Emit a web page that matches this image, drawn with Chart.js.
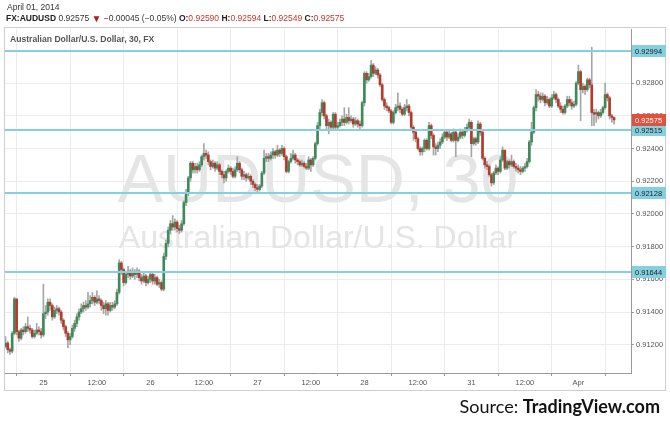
<!DOCTYPE html>
<html>
<head>
<meta charset="utf-8">
<script src="https://cdn.jsdelivr.net/npm/chart.js@4.4.0/dist/chart.umd.min.js"></script>
<style>
  html, body { margin: 0; padding: 0; background: #fff; }
  #wrap { width: 670px; height: 425px; }
</style>
</head>
<body>
<div id="wrap"><canvas id="audChart" width="670" height="425"></canvas></div>
<script>
// AUDUSD, 30 minute bars (24 Mar pm -> 1 Apr am)
const opens = [
  .9119,.9121,.9117,.9116,.9127,.9148,.9128,.9124,.9129,.9128,.9131,.9130,
  .9129,.9125,.9127,.9129,.9128,.9126,.9139,.9140,.9146,.9144,.9137,.9141,
  .9142,.9140,.9135,.9131,.9127,.9123,.9125,.9130,.9133,.9137,.9140,.9142,
  .9144,.9143,.9145,.9147,.9149,.9146,.9148,.9147,.9144,.9142,.9145,.9141,
  .9144,.9143,.9145,.9152,.9170,.9166,.9158,.9163,.9165,.9162,.9164,.9163,
  .9165,.9161,.9159,.9162,.9158,.9160,.9163,.9159,.9161,.9157,.9158,.9154,
  .9174,.9182,.9190,.9194,.9192,.9195,.9191,.9190,.9194,.9207,.9213,.9222,
  .9231,.9227,.9229,.9227,.9230,.9235,.9237,.9236,.9232,.9229,.9231,.9228,
  .9230,.9226,.9224,.9222,.9226,.9228,.9226,.9223,.9227,.9231,.9227,.9223,
  .9224,.9222,.9223,.9220,.9218,.9216,.9215,.9217,.9225,.9234,.9235,.9234,
  .9236,.9238,.9236,.9239,.9237,.9240,.9235,.9226,.9232,.9234,.9236,.9233,
  .9232,.9230,.9231,.9229,.9228,.9233,.9230,.9234,.9243,.9254,.9262,.9268,
  .9260,.9254,.9256,.9253,.9261,.9253,.9254,.9256,.9258,.9256,.9259,.9257,
  .9258,.9255,.9257,.9255,.9254,.9268,.9286,.9282,.9284,.9291,.9286,.9288,
  .9285,.9279,.9270,.9266,.9265,.9263,.9256,.9262,.9265,.9266,.9264,.9261,
  .9265,.9266,.9262,.9253,.9250,.9246,.9240,.9238,.9240,.9245,.9240,.9254,
  .9248,.9241,.9240,.9242,.9244,.9247,.9250,.9247,.9249,.9245,.9250,.9245,
  .9247,.9250,.9248,.9251,.9253,.9256,.9243,.9246,.9244,.9255,.9250,.9234,
  .9230,.9229,.9224,.9219,.9225,.9228,.9226,.9233,.9239,.9228,.9232,.9230,
  .9232,.9229,.9228,.9227,.9226,.9228,.9229,.9232,.9244,.9250,.9265,.9273,
  .9272,.9270,.9272,.9268,.9270,.9266,.9271,.9273,.9270,.9266,.9264,.9262,
  .9266,.9270,.9268,.9266,.9267,.9280,.9287,.9276,.9278,.9276,.9282,.9279,
  .9262,.9261,.9262,.9260,.9262,.9265,.9273,.9271,.9260,.9259
];
const highs = [
  .9125,.9122,.9118,.9128,.9149,.9148,.9129,.9130,.9131,.9133,.9137,.9132,
  .9130,.9129,.9133,.9131,.9130,.9157,.9144,.9148,.9148,.9145,.9143,.9144,
  .9143,.9141,.9136,.9132,.9128,.9127,.9132,.9135,.9139,.9142,.9145,.9146,
  .9147,.9152,.9150,.9152,.9150,.9153,.9150,.9148,.9146,.9147,.9146,.9146,
  .9146,.9147,.9154,.9172,.9171,.9167,.9165,.9168,.9166,.9167,.9166,.9167,
  .9166,.9163,.9164,.9163,.9162,.9165,.9164,.9163,.9162,.9160,.9159,.9176,
  .9184,.9192,.9196,.9199,.9197,.9196,.9193,.9196,.9208,.9215,.9223,.9232,
  .9232,.9231,.9231,.9232,.9236,.9243,.9239,.9238,.9233,.9233,.9232,.9232,
  .9231,.9227,.9226,.9227,.9230,.9229,.9228,.9229,.9235,.9232,.9228,.9226,
  .9225,.9225,.9224,.9221,.9219,.9218,.9218,.9226,.9239,.9237,.9237,.9238,
  .9240,.9239,.9242,.9240,.9242,.9241,.9236,.9233,.9237,.9239,.9237,.9234,
  .9233,.9233,.9232,.9231,.9235,.9234,.9235,.9244,.9256,.9264,.9270,.9269,
  .9261,.9258,.9257,.9262,.9262,.9256,.9258,.9260,.9265,.9261,.9265,.9260,
  .9259,.9259,.9258,.9257,.9269,.9287,.9287,.9286,.9294,.9292,.9290,.9289,
  .9286,.9280,.9271,.9268,.9266,.9264,.9263,.9267,.9274,.9268,.9265,.9267,
  .9270,.9267,.9263,.9254,.9251,.9247,.9241,.9241,.9246,.9246,.9256,.9255,
  .9249,.9243,.9244,.9246,.9249,.9251,.9251,.9251,.9250,.9252,.9251,.9249,
  .9252,.9251,.9253,.9255,.9258,.9257,.9247,.9247,.9257,.9256,.9251,.9235,
  .9232,.9230,.9225,.9226,.9230,.9229,.9235,.9241,.9239,.9233,.9233,.9236,
  .9233,.9231,.9230,.9229,.9229,.9231,.9234,.9245,.9256,.9266,.9276,.9275,
  .9274,.9274,.9273,.9272,.9271,.9273,.9275,.9274,.9271,.9268,.9266,.9267,
  .9272,.9272,.9270,.9269,.9281,.9291,.9288,.9280,.9279,.9283,.9283,.9302,
  .9264,.9264,.9263,.9264,.9266,.9280,.9274,.9272,.9261,.92594
];
const lows = [
  .9118,.9115,.9114,.9115,.9126,.9126,.9122,.9123,.9126,.9127,.9128,.9127,
  .9124,.9124,.9126,.9126,.9124,.9125,.9136,.9138,.9141,.9135,.9136,.9139,
  .9138,.9133,.9129,.9125,.9118,.9120,.9124,.9128,.9131,.9135,.9139,.9140,
  .9141,.9142,.9143,.9145,.9144,.9145,.9145,.9141,.9139,.9138,.9138,.9140,
  .9141,.9142,.9144,.9151,.9163,.9156,.9157,.9161,.9160,.9161,.9160,.9161,
  .9159,.9157,.9158,.9156,.9157,.9158,.9157,.9157,.9156,.9155,.9153,.9153,
  .9172,.9180,.9188,.9190,.9190,.9189,.9188,.9189,.9193,.9205,.9211,.9220,
  .9225,.9225,.9225,.9226,.9229,.9233,.9234,.9230,.9227,.9228,.9226,.9227,
  .9224,.9222,.9219,.9220,.9225,.9224,.9222,.9222,.9226,.9225,.9221,.9221,
  .9220,.9221,.9218,.9216,.9214,.9213,.9214,.9216,.9224,.9232,.9232,.9233,
  .9234,.9234,.9235,.9235,.9236,.9233,.9225,.9225,.9231,.9233,.9231,.9230,
  .9229,.9229,.9228,.9227,.9227,.9226,.9229,.9233,.9242,.9252,.9260,.9258,
  .9252,.9249,.9251,.9252,.9251,.9252,.9253,.9254,.9254,.9255,.9255,.9256,
  .9253,.9254,.9253,.9252,.9253,.9266,.9280,.9281,.9283,.9284,.9285,.9283,
  .9278,.9269,.9264,.9263,.9262,.9255,.9255,.9261,.9263,.9262,.9260,.9260,
  .9263,.9260,.9252,.9245,.9244,.9239,.9236,.9236,.9238,.9239,.9239,.9246,
  .9236,.9236,.9238,.9240,.9243,.9246,.9245,.9246,.9244,.9244,.9235,.9244,
  .9246,.9246,.9247,.9250,.9252,.9235,.9242,.9242,.9243,.9248,.9233,.9228,
  .9227,.9223,.9217,.9218,.9224,.9224,.9225,.9232,.9227,.9227,.9228,.9229,
  .9228,.9226,.9225,.9224,.9225,.9226,.9228,.9231,.9242,.9249,.9263,.9269,
  .9268,.9269,.9266,.9267,.9265,.9265,.9270,.9268,.9265,.9262,.9261,.9261,
  .9265,.9266,.9264,.9265,.9266,.9279,.9257,.9274,.9273,.9275,.9277,.9254,
  .9254,.9256,.9258,.9259,.9261,.9264,.9269,.9258,.9256,.92549
];
const closes = [
  .9121,.9117,.9116,.9127,.9148,.9128,.9124,.9129,.9128,.9131,.9130,.9129,
  .9125,.9127,.9129,.9128,.9126,.9139,.9140,.9146,.9144,.9137,.9141,.9142,
  .9140,.9135,.9131,.9127,.9123,.9125,.9130,.9133,.9137,.9140,.9142,.9144,
  .9143,.9145,.9147,.9149,.9146,.9148,.9147,.9144,.9142,.9145,.9141,.9144,
  .9143,.9145,.9152,.9170,.9166,.9158,.9163,.9165,.9162,.9164,.9163,.9165,
  .9161,.9159,.9162,.9158,.9160,.9163,.9159,.9161,.9157,.9158,.9154,.9174,
  .9182,.9190,.9194,.9192,.9195,.9191,.9190,.9194,.9207,.9213,.9222,.9231,
  .9227,.9229,.9227,.9230,.9235,.9237,.9236,.9232,.9229,.9231,.9228,.9230,
  .9226,.9224,.9222,.9226,.9228,.9226,.9223,.9227,.9231,.9227,.9223,.9224,
  .9222,.9223,.9220,.9218,.9216,.9215,.9217,.9225,.9234,.9235,.9234,.9236,
  .9238,.9236,.9239,.9237,.9240,.9235,.9226,.9232,.9234,.9236,.9233,.9232,
  .9230,.9231,.9229,.9228,.9233,.9230,.9234,.9243,.9254,.9262,.9268,.9260,
  .9254,.9256,.9253,.9261,.9253,.9254,.9256,.9258,.9256,.9259,.9257,.9258,
  .9255,.9257,.9255,.9254,.9268,.9286,.9282,.9284,.9291,.9286,.9288,.9285,
  .9279,.9270,.9266,.9265,.9263,.9256,.9262,.9265,.9266,.9264,.9261,.9265,
  .9266,.9262,.9253,.9250,.9246,.9240,.9238,.9240,.9245,.9240,.9254,.9248,
  .9241,.9240,.9242,.9244,.9247,.9250,.9247,.9249,.9245,.9250,.9245,.9247,
  .9250,.9248,.9251,.9253,.9256,.9243,.9246,.9244,.9255,.9250,.9234,.9230,
  .9229,.9224,.9219,.9225,.9228,.9226,.9233,.9239,.9228,.9232,.9230,.9232,
  .9229,.9228,.9227,.9226,.9228,.9229,.9232,.9244,.9250,.9265,.9273,.9272,
  .9270,.9272,.9268,.9270,.9266,.9271,.9273,.9270,.9266,.9264,.9262,.9266,
  .9270,.9268,.9266,.9267,.9280,.9287,.9276,.9278,.9276,.9282,.9279,.9262,
  .9261,.9262,.9260,.9262,.9265,.9273,.9271,.9260,.9259,.92575
];

// bar index of each time label on the bottom axis
const xTickIdx = [17, 41, 65, 89, 113, 137, 161, 185, 209, 233, 257];
const xTickLabels = ['25', '12:00', '26', '12:00', '27', '12:00', '28', '12:00', '31', '12:00', 'Apr'];
const yTicks = [0.912, 0.914, 0.916, 0.918, 0.920, 0.922, 0.924, 0.926, 0.928, 0.930];

// horizontal lines drawn on the chart + last price
const levels = [0.92994, 0.92515, 0.92128, 0.91644];
const lastPrice = 0.92575;

const upColor = '#3e8a5b';
const downColor = '#b63a2c';
const wickColor = '#a6a6a6';
const levelColor = '#84d0e0';

const wickData = highs.map((h, i) => ({ x: i, y: [lows[i], h] }));
const bodyData = opens.map((o, i) => ({ x: i, y: [o, closes[i]] }));

const labelFont = '7.5px "Liberation Sans", Arial, sans-serif';

const decor = {
    id: 'decor',
    beforeDraw(chart) {
        const c = chart.ctx;
        c.save();
        c.fillStyle = '#fff';
        c.fillRect(0, 0, chart.width, chart.height);
        c.strokeStyle = '#cfcfcf';
        c.lineWidth = 1;
        c.strokeRect(4.5, 27.5, 661, 363);

        // header
        c.textBaseline = 'middle';
        c.fillStyle = '#333';
        c.font = '8.5px "Liberation Sans", Arial, sans-serif';
        c.fillText('April 01, 2014', 7, 8);

        const parts = [
            ['FX:AUDUSD', true, '#222', 8.5],
            [' 0.92575 ', false, '#333', 8.5],
            ['\u25BC', false, '#a8231b', 10],
            [' \u22120.00045 (\u22120.05%) ', false, '#333', 8.5],
            ['O:', true, '#222', 8.5], ['0.92590', false, '#c0392b', 8.5],
            [' H:', true, '#222', 8.5], ['0.92594', false, '#c0392b', 8.5],
            [' L:', true, '#222', 8.5], ['0.92549', false, '#c0392b', 8.5],
            [' C:', true, '#222', 8.5], ['0.92575', false, '#c0392b', 8.5]
        ];
        let x = 6;
        parts.forEach(p => {
            c.font = (p[1] ? 'bold ' : '') + p[3] + 'px "Liberation Sans", Arial, sans-serif';
            c.fillStyle = p[2];
            c.fillText(p[0], x, 19);
            x += c.measureText(p[0]).width;
        });
        c.restore();
    },
    beforeDatasetsDraw(chart) {
        const c = chart.ctx;
        const a = chart.chartArea;
        const mid = (a.left + a.right) / 2;
        c.save();
        c.fillStyle = '#e5e5e5';
        c.textAlign = 'center';
        c.textBaseline = 'alphabetic';
        c.font = '68px "Liberation Sans", Arial, sans-serif';
        c.fillText('AUDUSD, 30', mid, 202);
        c.font = '32px "Liberation Sans", Arial, sans-serif';
        c.fillText('Australian Dollar/U.S. Dollar', mid, 248);
        c.restore();
    },
    afterDatasetsDraw(chart) {
        const c = chart.ctx;
        const a = chart.chartArea;
        const ys = chart.scales.y;
        c.save();
        c.strokeStyle = levelColor;
        c.lineWidth = 2;
        levels.forEach(v => {
            const y = Math.round(ys.getPixelForValue(v));
            c.beginPath();
            c.moveTo(a.left, y);
            c.lineTo(a.right, y);
            c.stroke();
        });
        c.restore();
    },
    afterDraw(chart) {
        const c = chart.ctx;
        const a = chart.chartArea;
        const ys = chart.scales.y;
        c.save();
        c.textBaseline = 'middle';
        c.font = labelFont;
        const box = (v, bg, fg) => {
            const y = Math.round(ys.getPixelForValue(v));
            c.fillStyle = bg;
            c.fillRect(a.right + 1, y - 6, 34, 12);
            c.fillStyle = fg;
            c.fillText(v.toFixed(5), a.right + 4, y + 0.5);
        };
        levels.forEach(v => box(v, levelColor, '#1d1d1d'));
        box(lastPrice, '#e0503d', '#fff');

        // pane title
        c.fillStyle = '#555';
        c.font = 'bold 8.6px "Liberation Sans", Arial, sans-serif';
        c.fillText('Australian Dollar/U.S. Dollar, 30, FX', 10, 40);

        // source
        c.textBaseline = 'alphabetic';
        c.textAlign = 'right';
        c.fillStyle = '#111';
        c.font = 'bold 18px Lato, "Open Sans", sans-serif';
        const brand = 'TradingView.com';
        c.fillText(brand, 660, 413);
        const bw = c.measureText(brand).width;
        c.font = '18px Lato, "Open Sans", sans-serif';
        c.fillText('Source: ', 660 - bw, 413);
        c.restore();
    }
};

new Chart(document.getElementById('audChart'), {
    type: 'bar',
    data: {
        datasets: [{
            data: wickData,
            backgroundColor: wickColor,
            barThickness: 1,
            grouped: false,
            order: 2
        }, {
            data: bodyData,
            backgroundColor: ctx => {
                const i = ctx.dataIndex;
                return closes[i] >= opens[i] ? upColor : downColor;
            },
            barThickness: 2,
            minBarLength: 1,
            grouped: false,
            order: 1
        }]
    },
    options: {
        responsive: false,
        animation: false,
        devicePixelRatio: 1,
        layout: {
            padding: { left: 5, right: 4, top: 29, bottom: 35 }
        },
        plugins: {
            legend: { display: false },
            tooltip: { enabled: false }
        },
        scales: {
            x: {
                type: 'linear',
                offset: false,
                min: -0.22,
                max: 280.6,
                afterFit: s => { s.height = 17; },
                afterBuildTicks: s => {
                    s.ticks = xTickIdx.map(v => ({ value: v }));
                },
                ticks: {
                    autoSkip: false,
                    maxRotation: 0,
                    color: '#555',
                    font: { size: 7.5, family: '"Liberation Sans", Arial, sans-serif' },
                    padding: 2,
                    callback: v => xTickLabels[xTickIdx.indexOf(v)]
                },
                grid: { color: '#ececec', tickColor: '#999', tickLength: 3 },
                border: { color: '#999' }
            },
            y: {
                position: 'right',
                min: 0.91027,
                max: 0.93131,
                afterFit: s => { s.width = 35; },
                afterBuildTicks: s => {
                    s.ticks = yTicks.map(v => ({ value: v }));
                },
                ticks: {
                    color: '#555',
                    font: { size: 7.5, family: '"Liberation Sans", Arial, sans-serif' },
                    padding: 2,
                    callback: v => v.toFixed(5)
                },
                grid: { color: '#ececec', tickColor: '#999', tickLength: 3 },
                border: { color: '#999' }
            }
        }
    },
    plugins: [decor]
});
</script>
</body>
</html>
